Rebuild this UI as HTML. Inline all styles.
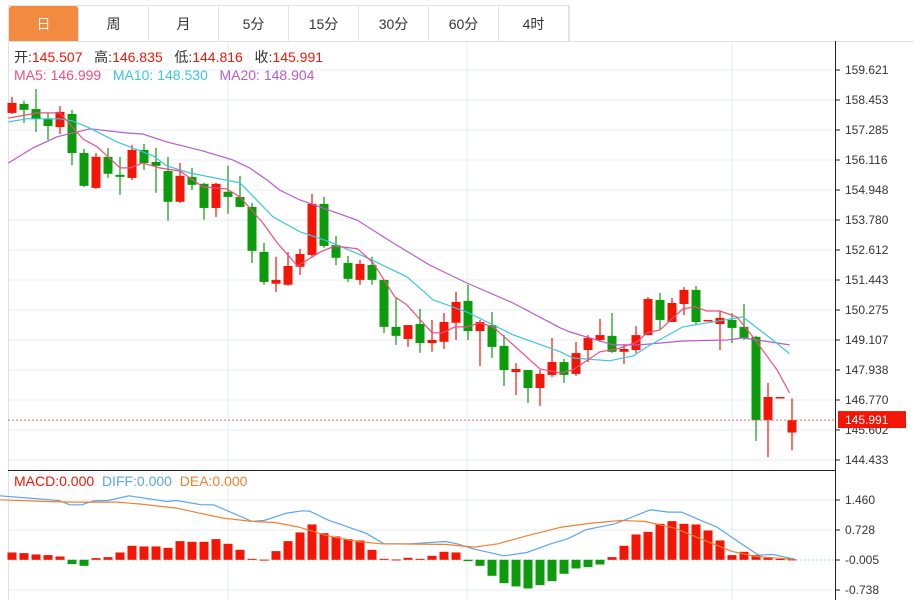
<!DOCTYPE html>
<html><head><meta charset="utf-8">
<style>
body{margin:0;background:#fff;width:914px;height:600px;overflow:hidden;font-family:"Liberation Sans","Noto Sans CJK SC",sans-serif;}
#tabs{position:absolute;left:8px;top:5px;height:36px;display:flex;border:1px solid #e3e3e3;border-bottom:none;}
.tab{width:69px;height:36px;line-height:36px;text-align:center;font-size:14px;color:#333;border-right:1px solid #e3e3e3;}
.tab.on{background:#f28a40;color:#fff;border-radius:3px 3px 0 0;}
svg{position:absolute;left:0;top:0;}
</style></head><body>
<div id="tabs">
<div class="tab on">日</div>
<div class="tab">周</div>
<div class="tab">月</div>
<div class="tab">5分</div>
<div class="tab">15分</div>
<div class="tab">30分</div>
<div class="tab">60分</div>
<div class="tab">4时</div>
</div>
<svg id="chart" width="914" height="600"></svg>
<script>
const opens=[157.95,158.30,158.10,157.71,157.40,157.91,156.39,155.03,156.24,155.54,155.42,156.51,156.04,155.69,154.49,155.46,155.19,154.25,154.88,154.68,154.29,152.54,151.30,151.26,151.96,152.42,154.41,152.81,152.11,151.45,152.03,151.45,149.62,149.15,149.73,148.99,149.04,149.78,150.63,149.46,149.69,148.88,147.86,147.94,147.24,147.75,148.25,147.79,148.72,149.11,149.27,148.65,148.72,149.30,150.67,149.81,150.51,151.06,149.85,149.73,149.89,149.62,149.23,145.99,146.85,145.507];
const closes=[158.34,158.07,157.71,157.44,157.99,156.39,155.11,156.24,155.58,155.46,156.51,156.00,155.89,154.49,155.50,155.15,154.25,155.19,154.68,154.29,152.58,151.37,151.45,151.99,152.46,154.41,152.77,152.31,151.49,152.07,151.45,149.62,149.27,149.69,148.99,149.11,149.81,150.59,149.46,149.81,148.84,147.94,147.98,147.24,147.79,148.25,147.75,148.60,149.19,149.30,148.65,148.76,149.30,150.71,149.89,150.55,151.06,149.81,149.89,149.97,149.58,149.19,145.99,146.89,146.89,145.991];
const highs=[158.57,158.42,158.88,157.95,158.22,158.07,156.55,156.39,156.59,156.24,156.71,156.74,156.59,156.24,156.00,155.81,155.23,155.23,155.89,155.50,154.45,152.89,152.35,152.54,152.66,154.80,154.68,153.16,152.38,152.23,152.35,151.45,150.78,149.69,150.32,149.89,150.16,150.98,151.26,149.89,150.20,149.30,148.21,147.94,147.94,149.19,148.37,149.03,149.30,149.93,150.16,148.95,149.65,150.78,150.94,150.74,151.17,151.21,149.89,150.24,150.16,150.51,149.27,147.44,146.89,146.835];
const lows=[157.91,157.56,157.21,156.90,157.13,155.92,155.07,154.99,155.42,154.76,155.34,155.73,154.84,153.75,154.45,154.95,153.79,153.90,154.02,154.29,152.11,151.26,150.98,151.22,151.64,152.35,152.70,152.03,151.37,151.26,151.26,149.38,148.92,148.84,148.61,148.65,148.76,149.11,149.11,148.10,148.41,147.32,146.97,146.66,146.54,147.67,147.44,147.71,148.25,149.03,148.61,148.18,148.61,149.30,149.50,149.81,150.08,149.69,149.85,148.72,148.99,149.11,145.18,144.55,146.85,144.816];
const ma5Idx=[-0.3,2.1,4,5.9,7.1,9,9.8,10.9,12.3,14,15.9,17.9,19,20.9,22.1,23.8,25.7,26.9,28.8,30.1,31.9,32.9,35,35.9,36.9,37.9,39,40.1,44,45.7,46.75,49,50.4,52.1,52.9,54,55.9,56.9,57.9,59,60.4,61.75,63.75,64.8];
const ma5Val=[157.75,157.95,157.95,156.94,156.63,155.81,155.81,156.00,155.81,155.69,155.07,154.99,154.68,153.67,152.89,151.99,152.54,152.77,152.66,152.11,150.79,150.48,149.39,149.39,149.62,149.62,149.78,149.62,147.98,147.83,147.95,148.65,148.76,149.04,149.39,149.50,150.32,150.40,150.24,150.24,150.01,149.23,147.95,147.05];
const ma10Idx=[-0.3,1.25,4,5,6.25,8.75,11.75,12.9,14.8,19,21.75,24,26.5,29.6,32.9,35.1,37.9,41.75,45.7,46.75,49.8,51.75,53.2,55.9,60.9,63.4,64.8];
const ma10Val=[157.60,157.72,157.72,157.64,157.41,156.82,156.28,155.89,155.61,155.23,153.90,153.32,152.93,152.31,151.57,150.67,150.20,149.31,148.65,148.41,148.30,148.49,148.92,149.62,150.01,149.11,148.57];
const ma20Idx=[-0.3,1.75,3.75,6.5,9.6,10.9,12.9,15.9,18.4,19.8,21.25,22.3,24,28.75,31.75,34.8,37.9,41.75,45.7,46.5,50.1,52.3,55.9,59.6,60.9,64.8];
const ma20Val=[156.00,156.59,157.02,157.33,157.17,157.13,156.82,156.47,156.12,155.81,155.34,154.95,154.56,153.78,152.89,152.03,151.33,150.55,149.58,149.42,148.92,148.92,149.07,149.11,149.19,148.92];
const macdHist=[0.179,0.163,0.130,0.114,0.081,-0.106,-0.147,0.041,0.065,0.179,0.342,0.326,0.326,0.293,0.456,0.440,0.440,0.505,0.391,0.244,0.024,0.005,0.212,0.456,0.668,0.863,0.651,0.570,0.505,0.472,0.244,0.024,0.008,0.049,0.024,0.098,0.195,0.179,-0.033,-0.147,-0.391,-0.570,-0.651,-0.700,-0.619,-0.521,-0.342,-0.212,-0.179,-0.114,0.065,0.342,0.619,0.684,0.879,0.944,0.879,0.863,0.716,0.472,0.114,0.195,0.114,0.05,0.02,0.01];
const diffIdx=[-1,3.9,4.8,5.8,6.8,8,9.75,12.9,13.7,15.8,16.8,20,21,22.9,24.2,24.8,26.3,28.25,29.5,31,33.2,36.1,37.1,38.5,41,42.9,44.9,46.3,47.8,50.25,53.2,54.7,55.8,57.6,58.75,60.5,62.2,63.4,65.2];
const diffVal=[1.564,1.450,1.344,1.344,1.441,1.450,1.564,1.425,1.450,1.344,1.344,0.937,0.961,1.140,1.197,1.189,0.977,0.774,0.651,0.391,0.391,0.448,0.391,0.261,0.098,0.179,0.391,0.513,0.733,0.880,1.222,1.165,1.165,0.937,0.798,0.448,0.114,0.130,0.016];
const deaIdx=[-1,2.9,4.8,8.75,10.75,13.7,15.6,17.6,20,21.9,23.9,26.3,28.75,30.75,36.1,38.5,40.5,42.9,45.8,48.3,50.75,52.7,55.2,57.6,60,62,64.9];
const deaVal=[1.466,1.425,1.409,1.409,1.360,1.262,1.140,1.018,0.937,0.912,0.798,0.586,0.448,0.391,0.375,0.309,0.391,0.586,0.798,0.896,0.961,0.937,0.774,0.489,0.204,0.081,0.016];
const priceTicks=["159.621","158.453","157.285","156.116","154.948","153.780","152.612","151.443","150.275","149.107","147.938","146.770","145.602","144.433"];
const macdTicks=["1.460","0.728","-0.005","-0.738"];

const svg=document.getElementById('chart');
const NS='http://www.w3.org/2000/svg';
function mk(tag,attrs,parent){const e=document.createElementNS(NS,tag);for(const k in attrs)e.setAttribute(k,attrs[k]);(parent||svg).appendChild(e);return e;}
const X=i=>12+i*12;
const Y=p=>70+(159.621-p)/1.168*30;
const MY=v=>560-(v+0.005)/0.733*30;
const RED='#f31505',GREEN='#0c9b0c';

for(let k=0;k<priceTicks.length;k++){const y=70+k*30;const g=mk('line',{x1:8,x2:835,y1:y,y2:y,stroke:'#e4ecf2'});}
[228,467,732].forEach(x=>{const g=mk('line',{x1:x,x2:x,y1:41,y2:600,stroke:'#e4ecf2'});});
[500,530,590].forEach(y=>{const g=mk('line',{x1:8,x2:835,y1:y,y2:y,stroke:'#e4ecf2'});});
let z=mk('line',{x1:8,x2:835,y1:560,y2:560,stroke:'#a8d4e8','stroke-dasharray':'2,2'});

let b=mk('line',{x1:8.5,x2:8.5,y1:41,y2:600,stroke:'#e0e0e0'});
b=mk('line',{x1:8,x2:914,y1:41.5,y2:41.5,stroke:'#e0e0e0'});
b=mk('line',{x1:8,x2:835,y1:470.5,y2:470.5,stroke:'#222'});
b=mk('line',{x1:835.5,x2:835.5,y1:41,y2:600,stroke:'#222'});

priceTicks.forEach((t,k)=>{const y=70+k*30;
 const tk=mk('line',{x1:835,x2:840,y1:y,y2:y,stroke:'#222'});
 const tx=mk('text',{x:845,y:y+4,'font-size':12,fill:'#333'});tx.textContent=t;});
macdTicks.forEach((t,k)=>{const y=500+k*30;
 const tk=mk('line',{x1:835,x2:840,y1:y,y2:y,stroke:'#222'});
 const tx=mk('text',{x:845,y:y+4,'font-size':12,fill:'#333'});tx.textContent=t;});

for(let i=0;i<opens.length;i++){
 const up=closes[i]>=opens[i];const c=up?RED:GREEN;const x=X(i);
 const w=mk('line',{x1:x,x2:x,y1:Y(highs[i]),y2:Y(lows[i]),stroke:c,'stroke-width':1.2});
 
 const top=Y(Math.max(opens[i],closes[i])),bot=Y(Math.min(opens[i],closes[i]));
 const r=mk('rect',{x:x-4.5,y:top,width:9,height:Math.max(1.5,bot-top),fill:c});
 
}
function line(idx,val,fy,color,name){const d=idx.map((k,j)=>(j?'L':'M')+X(k).toFixed(1)+','+fy(val[j]).toFixed(1)).join('');
 const p=mk('path',{d:d,fill:'none',stroke:color,'stroke-width':1.2});}
line(ma20Idx,ma20Val,Y,'#b55ec8','ma20-line');
line(ma10Idx,ma10Val,Y,'#3cc6dc','ma10-line');
line(ma5Idx,ma5Val,Y,'#ee4f80','ma5-line');

const lp=Y(closes[closes.length-1]);
let l=mk('line',{x1:8,x2:835,y1:lp,y2:lp,stroke:'#f36a6a','stroke-dasharray':'2,2'});
l=mk('rect',{x:838,y:lp-9,width:68,height:17,fill:'#f31505'});
l=mk('text',{x:845,y:lp+4,'font-size':12,fill:'#fff'});l.textContent='145.991';

macdHist.forEach((v,i)=>{const y0=MY(0),y1=MY(v);
 const r=mk('rect',{x:X(i)-4.5,y:Math.min(y0,y1),width:9,height:Math.max(1,Math.abs(y1-y0)),fill:v>=0?RED:GREEN});
 });
line(diffIdx,diffVal,MY,'#5aa6ea','diff-line');
line(deaIdx,deaVal,MY,'#f28030','dea-line');

function legend(y,items,name){const t=mk('text',{x:14,y:y,'font-size':14});
 t.style.whiteSpace='pre';
 items.forEach(([s,c])=>{const ts=mk('tspan',{fill:c},t);ts.textContent=s;});}
legend(62,[['开:','#333'],['145.507   ','#f31505'],['高:','#333'],['146.835   ','#f31505'],['低:','#333'],['144.816   ','#f31505'],['收:','#333'],['145.991','#f31505']],'ohlc-legend');
legend(80,[['MA5: 146.999   ','#ee4f80'],['MA10: 148.530   ','#3cc6dc'],['MA20: 148.904','#b55ec8']],'ma-legend');
legend(486,[['MACD:0.000  ','#f31505'],['DIFF:0.000  ','#5aa6ea'],['DEA:0.000','#f28030']],'macd-legend');
</script>
</body></html>
